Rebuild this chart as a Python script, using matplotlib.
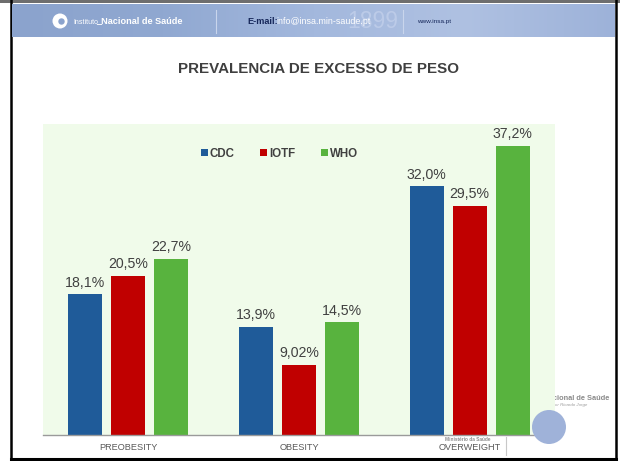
import numpy as np
import matplotlib.pyplot as plt
from matplotlib.patches import Rectangle, Circle
from matplotlib.colors import LinearSegmentedColormap

# datos
categorias = ['PREOBESITY', 'OBESITY', 'OVERWEIGHT']
series = ['CDC', 'IOTF', 'WHO']
cdc = [18.1, 13.9, 32.0]
iotf = [20.5, 9.02, 29.5]
who = [22.7, 14.5, 37.2]
etiquetas = [['18,1%', '13,9%', '32,0%'],
             ['20,5%', '9,02%', '29,5%'],
             ['22,7%', '14,5%', '37,2%']]
colores = ['#1F5B99', '#C00000', '#58B33E']

plt.rcParams['font.family'] = ['Liberation Sans', 'DejaVu Sans']

W, H = 620, 461
fig = plt.figure(figsize=(W / 100, H / 100), dpi=100)

# capa de decoración en coordenadas de pixel (fondo)
deco = fig.add_axes([0, 0, 1, 1], zorder=0)
deco.set_xlim(0, W)
deco.set_ylim(H, 0)
deco.axis('off')

# marco del slide
deco.add_patch(Rectangle((0, 0), W, 3.5, color='#6e6e6e', lw=0))
deco.plot([11, 11], [0, 459], color='black', lw=1.8)
deco.plot([616, 616], [0, 459], color='black', lw=1.8)
deco.plot([11, 616], [459, 459], color='black', lw=2.2)

deco.text(553, 398, 'cional de Saúde', fontsize=5.3, fontweight='bold',
          color='#8a8a8a', va='center', ha='left')
deco.text(555, 405, 'or Ricardo Jorge', fontsize=3.2, color='#9a9a9a',
          va='center', ha='left', style='italic')
deco.text(468, 439, 'Ministério da Saúde', fontsize=3.4, fontweight='bold',
          color='#8a8a8a', va='center', ha='center')
deco.plot([506, 506], [437, 455], color='#c8c8c8', lw=0.8)

# cabecera con degradado
grad = np.linspace(0, 1, 256)[None, :]
cab = fig.add_axes([12 / W, 1 - 37 / H, 603 / W, 33 / H], zorder=3)
cmap_cab = LinearSegmentedColormap.from_list(
    'cab', ['#8BA3CD', '#90A8D1', '#A3B8DD', '#AFC1E2', '#9DB2D9'])
cab.imshow(grad, aspect='auto', cmap=cmap_cab, extent=[12, 615, 37, 4])
cab.set_xlim(12, 615)
cab.set_ylim(37, 4)
cab.axis('off')
cab.add_patch(Circle((60, 21), 7.5, color='white', lw=0))
cab.add_patch(Circle((61.5, 21.5), 3.2, color='#8BA3CD', lw=0))
cab.text(73, 22, 'Instituto', fontsize=5, color='white', va='center')
cab.text(96, 21, '_Nacional de Saúde', fontsize=6.6, fontweight='bold',
         color='white', va='center')
cab.plot([216, 216], [10, 33], color='#c9d5ec', lw=0.8)
cab.text(347, 21, '1899', fontsize=16.5, color='#bccbe8', va='center')
cab.text(247, 21, 'E-mail:', fontsize=6.6, fontweight='bold', color='#16275a', va='center')
cab.text(276, 21, 'info@insa.min-saude.pt', fontsize=6.4, color='white', va='center')
cab.plot([403, 403], [10, 33], color='#c9d5ec', lw=0.8)
cab.text(417, 22, 'www.insa.pt', fontsize=4.6, color='#16275a', va='center')

# título
fig.text(318 / W, 1 - 69 / H, 'PREVALENCIA DE EXCESSO DE PESO', fontsize=10.9,
         fontweight='bold', color='#3f3f3f', ha='center', va='center')

# gráfico de barras
ax = fig.add_axes([43 / W, 1 - 435 / H, 512 / W, 311 / H], zorder=2)
ax.set_facecolor('#F0FBEA')
x = np.arange(len(categorias))
ancho = 0.2
paso = 0.252
for i, (nombre, vals) in enumerate(zip(series, [cdc, iotf, who])):
    barras = ax.bar(x + (i - 1) * paso, vals, ancho, color=colores[i], label=nombre)
    for b, t in zip(barras, etiquetas[i]):
        ax.text(b.get_x() + b.get_width() / 2, b.get_height() + 0.6, t,
                ha='center', va='bottom', fontsize=10.2, color='#404040')

ax.set_xlim(-0.5, 2.5)
ax.set_ylim(0, 40)
ax.set_yticks([])
ax.set_xticks(x)
ax.set_xticklabels(categorias, fontsize=6.6, color='#595959')
ax.tick_params(axis='x', length=0, pad=6)
for s in ['top', 'right', 'left']:
    ax.spines[s].set_visible(False)
ax.spines['bottom'].set_color('#9a9a9a')
ax.spines['bottom'].set_linewidth(1)

leg = ax.legend(loc='center', bbox_to_anchor=(0.462, 0.904), ncol=3, frameon=False,
                handlelength=0.6, handleheight=0.6, handletextpad=0.2,
                columnspacing=2.2, prop={'weight': 'bold', 'size': 8.3})
for t in leg.get_texts():
    t.set_color('#404040')

# logo inferior derecho, por encima del fondo del gráfico
logo = fig.add_axes([0, 0, 1, 1], zorder=4)
logo.set_xlim(0, W)
logo.set_ylim(H, 0)
logo.axis('off')
logo.patch.set_alpha(0)
circ = Circle((549, 427), 17, color='#9FB2D9', lw=0)
logo.add_patch(circ)
clip = Rectangle((531, 400), 40, 50, transform=logo.transData)
circ.set_clip_path(clip)

fig.savefig('out.png', dpi=100)
